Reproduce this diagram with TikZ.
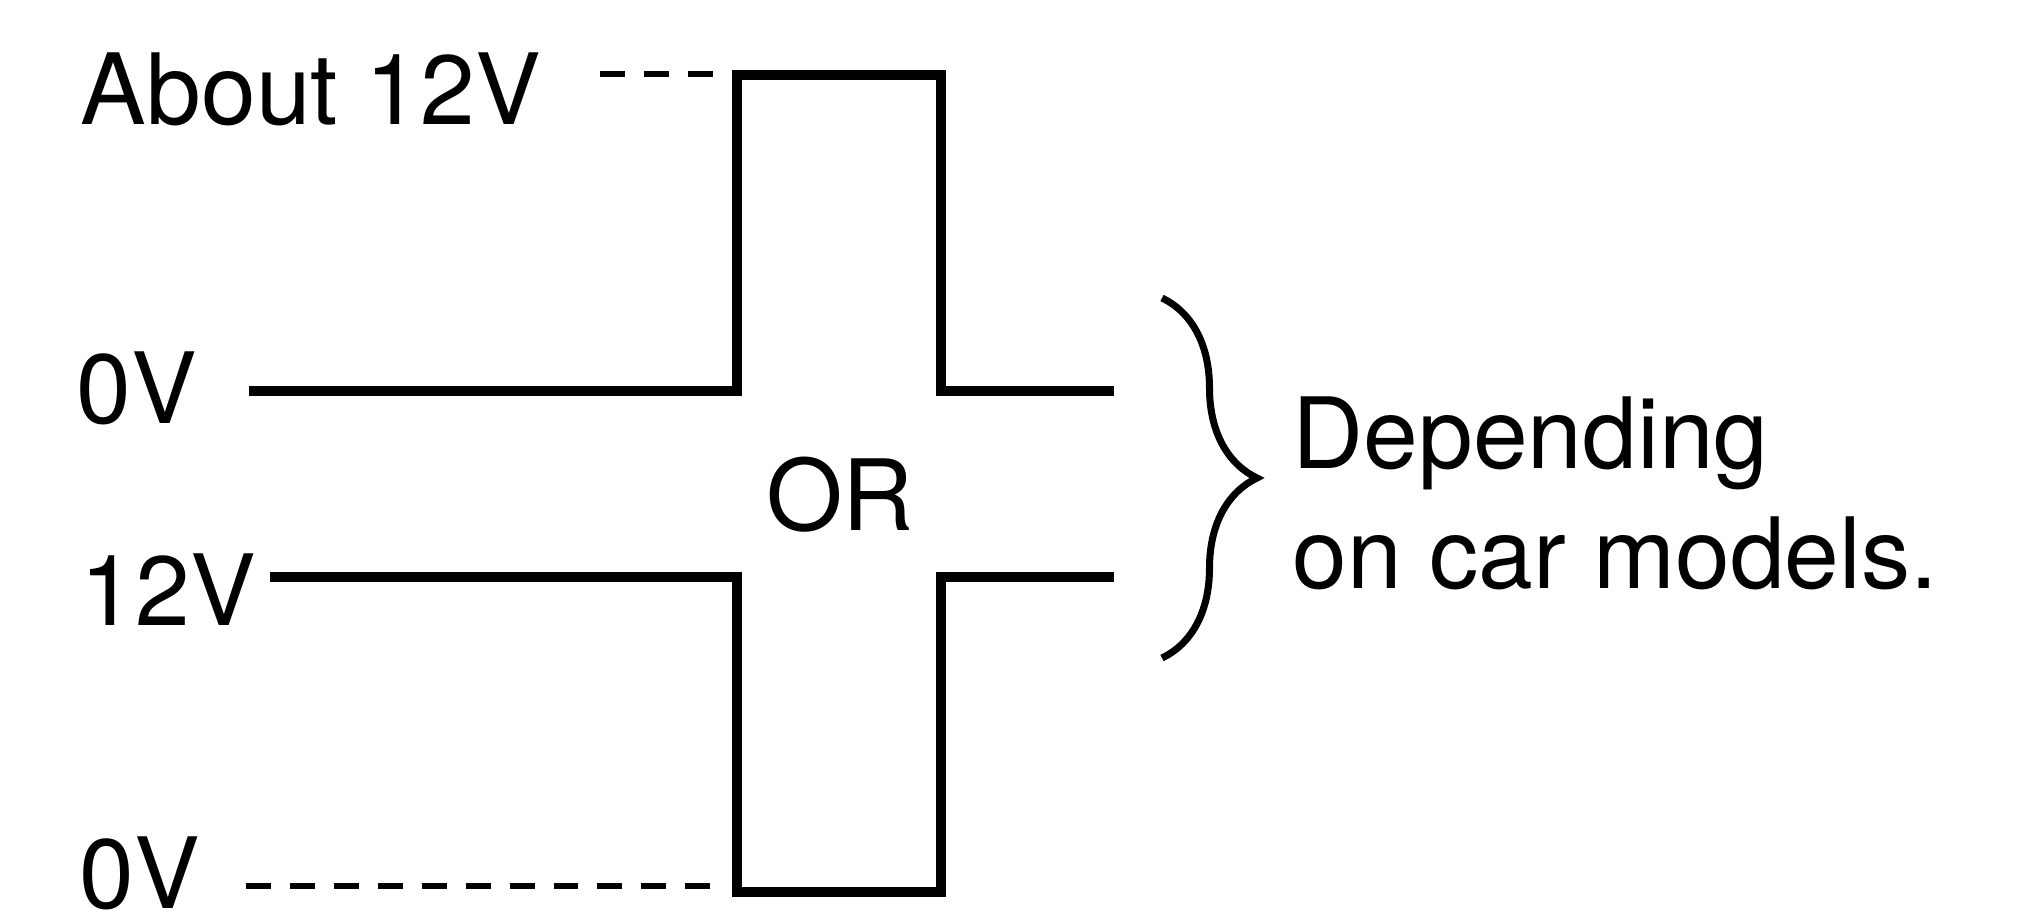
\documentclass[tikz,border=0pt]{standalone}
\usepackage{fontspec}
\setmainfont{TeX Gyre Heros}
\usetikzlibrary{positioning, decorations.pathreplacing}
\tikzset{
  wave/.style={draw=black, line width=2.7pt},
  guide/.style={draw=black, line width=1.8pt, dash pattern=on 7.1pt off 5.4pt},
  lbl/.style={anchor=base west, inner sep=0pt, font=\fontsize{28}{34}\selectfont},
  brc/.style={draw=black, line width=2.0pt, decorate, decoration={brace, amplitude=0.95cm}},
}

\begin{document}
\begin{tikzpicture}[x=1cm, y=1cm]
  \useasboundingbox (0,0) rectangle (20.26,9.17);
  % ---------------- labels ----------------
  \node[lbl] (hi) at (0.80,7.93) {About 12V};
  \node[lbl] (lowa) at (0.76,4.94) {0V};
  \node[lbl] (highb) at (0.80,2.92) {12V};
  \node[lbl] (lowb) at (0.79,0.09) {0V};
  \node[lbl, anchor=base] (or) at (8.40,3.87) {OR};
  \node[lbl] (dep) at (12.92,4.49) {Depending};
  \node[lbl] (cars) at (12.92,3.29) {on car models.};

  % ---------------- pulse corners ----------------
  \coordinate (ptl) at (7.37,8.42);
  \coordinate (ptr) at (9.41,8.42);
  \coordinate (pbl) at (7.37,0.25);
  \coordinate (pbr) at (9.41,0.25);

  % ---------------- waveforms ----------------
  \draw[wave] (2.49,5.26) -- (7.37,5.26) -- (ptl) -- (ptr) -- (9.41,5.26) -- (11.14,5.26);
  \draw[wave] (2.70,3.40) -- (7.37,3.40) -- (pbl) -- (pbr) -- (9.41,3.40) -- (11.14,3.40);

  % ---------------- level guides ----------------
  \coordinate (gt) at (6.00,8.43);
  \coordinate (gb) at (2.46,0.31);
  \draw[guide] (gt) -- (7.13,8.43);
  \draw[guide] (gb) -- (7.13,0.31);

  % ---------------- brace ----------------
  \coordinate (bt) at (11.62,6.19);
  \coordinate (bb) at (11.62,2.59);
  \draw[brc] (bt) -- (bb);
\end{tikzpicture}
\end{document}
